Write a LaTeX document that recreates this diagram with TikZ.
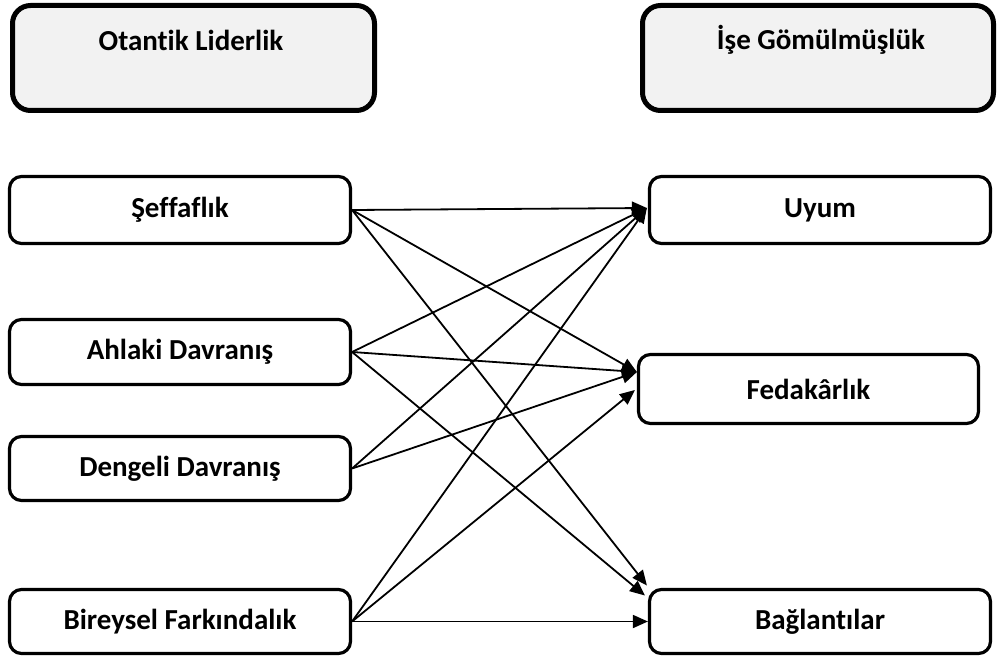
\documentclass[tikz,border=0pt]{standalone}
\usepackage{fontspec}
\setmainfont{Carlito}[Ligatures=NoCommon]
\usetikzlibrary{arrows.meta,calc}
\definecolor{boxgray}{HTML}{F2F2F2}
\begin{document}
\begin{tikzpicture}[x=1pt,y=-1pt,
  lbl/.style={font=\fontsize{29}{34}\selectfont\bfseries, inner sep=0pt},
  topbox/.style={draw=black, line width=5pt, rounded corners=18pt, fill=boxgray, minimum height=105pt, inner sep=0pt},
  subbox/.style={draw=black, line width=3.2pt, rounded corners=12pt, fill=white, minimum width=341pt, inner sep=0pt, font=\fontsize{29}{34}\selectfont\bfseries},
  conn/.style={line width=1.8pt, -{Triangle[length=15pt,width=13pt]}}
]
\useasboundingbox (0,0) rectangle (997,661);
% top boxes
\node[topbox, minimum width=362pt] (lider) at (193.5,58) {};
\node[lbl] (liderT) at (191,40) {Otantik Liderlik};
\node[topbox, minimum width=351pt] (gomul) at (818,58) {};
\node[lbl] (gomulT) at (821,40) {İşe Gömülmüşlük};
% left boxes
\node[subbox, minimum height=67pt] (seff) at (180,210) {Şeffaflık};
\node[subbox, minimum height=65pt] (ahlak) at (180,352) {Ahlaki Davranış};
\node[subbox, minimum height=64pt] (denge) at (180,468.5) {Dengeli Davranış};
\node[subbox, minimum height=64pt] (birey) at (180,621.5) {Bireysel Farkındalık};
% right boxes
\node[subbox, minimum height=67pt] (uyum) at (820,210) {Uyum};
\node[subbox, minimum width=340pt, minimum height=69pt] (fed) at (808.5,389) {Fedakârlık};
\node[subbox, minimum height=64pt] (bag) at (820,621.5) {Bağlantılar};
% target points
\coordinate (uT) at ($(uyum.west)+(-1,-2)$);
\coordinate (fT1) at ($(fed.west)+(0,-17)$);
\coordinate (fT2) at ($(fed.west)+(-2,1)$);
\coordinate (bT1) at ($(bag.west)+(-1,-36)$);
\coordinate (bT2) at ($(bag.west)+(-3,-26)$);
\coordinate (bT3) at (bag.west);
% connectors
\draw[conn] (seff.east) -- (uT);
\draw[conn] (seff.east) -- (fT1);
\draw[conn] (seff.east) -- (bT1);
\draw[conn] (ahlak.east) -- (uT);
\draw[conn] (ahlak.east) -- (fT1);
\draw[conn] (ahlak.east) -- (bT2);
\draw[conn] (denge.east) -- (uT);
\draw[conn] (denge.east) -- (fT1);
\draw[conn] (birey.east) -- (uT);
\draw[conn] (birey.east) -- (fT2);
\draw[conn] (birey.east) -- (bT3);
\end{tikzpicture}
\end{document}
